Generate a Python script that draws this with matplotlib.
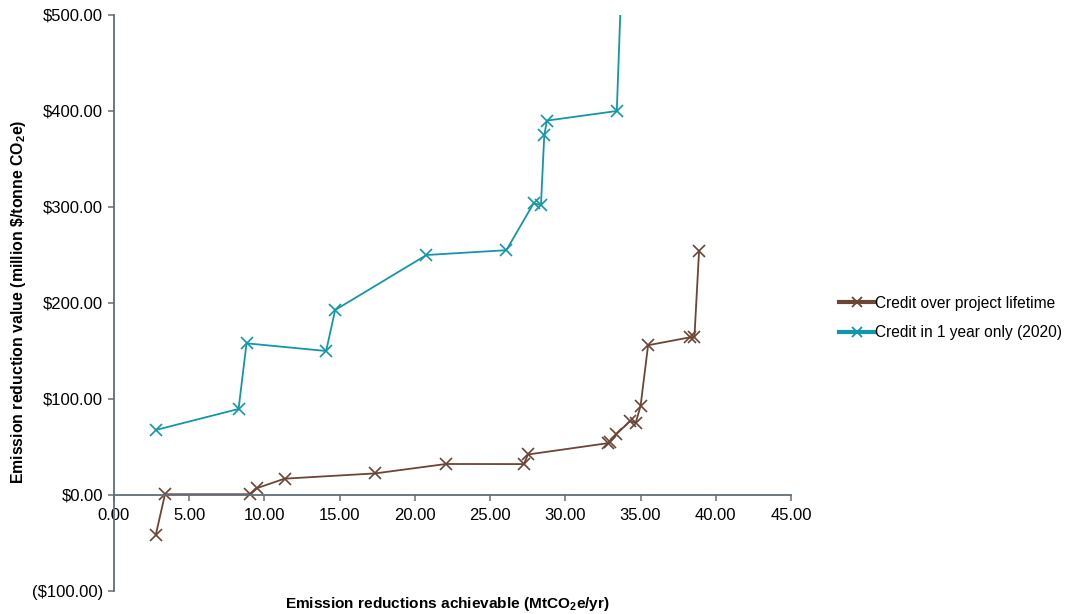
import matplotlib
matplotlib.use("Agg")
import matplotlib.pyplot as plt
from matplotlib.lines import Line2D
from matplotlib.ticker import FuncFormatter

plt.rcParams['font.family'] = ['Liberation Sans', 'DejaVu Sans']
plt.rcParams['mathtext.fontset'] = 'custom'
plt.rcParams['mathtext.rm'] = 'Liberation Sans'
plt.rcParams['mathtext.bf'] = 'Liberation Sans:bold'

# Credit over project lifetime
life_x = [2.77, 3.39, 9.03, 9.53, 11.34, 17.36, 22.07, 27.24, 27.52, 32.83, 32.95,
          33.40, 34.30, 34.68, 35.00, 35.50, 38.30, 38.58, 38.89]
life_y = [-42.0, 0.8, 0.8, 7.3, 17.0, 22.5, 32.3, 32.2, 42.2, 54.0, 55.0,
          63.5, 77.0, 75.3, 92.7, 156.0, 164.3, 164.3, 254.5]

# Credit in 1 year only (2020)
one_x = [2.77, 8.28, 8.81, 14.10, 14.70, 20.77, 26.08, 27.89, 28.38, 28.60, 28.78, 33.42, 34.80]
one_y = [67.7, 89.6, 158.0, 150.0, 192.7, 250.0, 255.0, 303.8, 302.0, 375.0, 390.0, 400.0, 1000.0]

series_names = ["Credit over project lifetime", "Credit in 1 year only (2020)"]
colors = ["#6B4536", "#1496AA"]

y_ticks = [-100, 0, 100, 200, 300, 400, 500]
x_ticks = [0, 5, 10, 15, 20, 25, 30, 35, 40, 45]

fig = plt.figure(figsize=(10.71, 6.14), dpi=100)
ax = fig.add_axes([114 / 1071, 1 - 591 / 614, (791 - 114) / 1071, (591 - 15) / 614])

ax.plot(life_x, life_y, color=colors[0], lw=1.3, marker='x', ms=9, mew=1.2, clip_on=True)
ax.plot(one_x, one_y, color=colors[1], lw=1.3, marker='x', ms=9, mew=1.2, clip_on=True)

ax.set_xlim(0, 45)
ax.set_ylim(-100, 500)
ax.set_xticks(x_ticks)
ax.set_yticks(y_ticks)

ax.xaxis.set_major_formatter(FuncFormatter(lambda v, p: f"{v:.2f}"))
ax.yaxis.set_major_formatter(FuncFormatter(
    lambda v, p: f"(${abs(v):,.2f})" if v < 0 else f"${v:,.2f}"))

axis_color = "#5F6E7A"
for s in ['top', 'right']:
    ax.spines[s].set_visible(False)
ax.spines['bottom'].set_position(('data', 0))
for s in ['left', 'bottom']:
    ax.spines[s].set_color(axis_color)
    ax.spines[s].set_linewidth(1.3)
ax.tick_params(axis='both', colors=axis_color, labelcolor='black', labelsize=12,
               length=4, width=1.1, direction='out')
ax.tick_params(axis='x', pad=5)
ax.tick_params(axis='y', pad=4)

fig.text(447 / 1071, 1 - 604 / 614,
         r"Emission reductions achievable (MtCO$_\mathbf{2}$e/yr)",
         ha='center', va='center', fontsize=11.1, fontweight='bold')
fig.text(19 / 1071, 1 - 302 / 614,
         r"Emission reduction value (million \$/tonne CO$_\mathbf{2}$e)",
         ha='center', va='center', rotation=90, fontsize=11.4, fontweight='bold')

handles = [Line2D([], [], color=c, lw=3, marker='x', ms=7, mew=1.3) for c in colors]
fig.legend(handles, series_names, loc='center left',
           bbox_to_anchor=(831 / 1071, 1 - 318 / 614), frameon=False,
           fontsize=11.2, handlelength=2.3, handletextpad=0.05, labelspacing=0.95,
           borderpad=0)

fig.savefig("out.png", dpi=100)
